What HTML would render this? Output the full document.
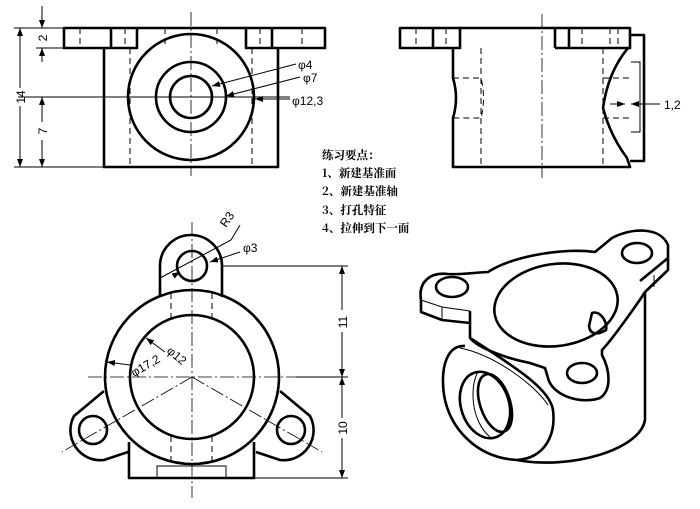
<!DOCTYPE html>
<html><head><meta charset="utf-8"><style>
html,body{margin:0;padding:0;background:#fff;}
svg{display:block;}
text{font-family:"Liberation Sans","Noto Sans CJK SC",sans-serif;fill:#000;}
.t{stroke:#000;stroke-width:2.6;fill:none;stroke-linejoin:round;}
.n{stroke:#000;stroke-width:1;fill:none;}
.d{stroke:#000;stroke-width:1;fill:none;stroke-dasharray:6,4;}
.c{stroke:#000;stroke-width:0.8;fill:none;stroke-dasharray:14,3,2,3;}
</style></head><body>
<svg width="700" height="509" viewBox="0 0 700 509" xmlns="http://www.w3.org/2000/svg">
<defs><marker id="a" markerWidth="8" markerHeight="6" refX="8" refY="3" orient="auto" markerUnits="userSpaceOnUse"><path d="M0,0 L8,3 L0,6z" fill="#000"/></marker></defs>

<!-- TOP LEFT VIEW -->
<rect class="t" x="64" y="28" width="73" height="20"/>
<rect class="t" x="246" y="28" width="79" height="20"/>
<line class="t" x1="137" y1="28" x2="246" y2="28"/>
<line class="t" x1="111" y1="28" x2="111" y2="48"/>
<line class="t" x1="272" y1="28" x2="272" y2="48"/>
<path class="t" d="M104,48 V167 H278 V48"/>
<line class="d" x1="80" y1="28" x2="80" y2="48"/><line class="d" x1="125" y1="28" x2="125" y2="48"/>
<line class="d" x1="260" y1="28" x2="260" y2="48"/><line class="d" x1="302" y1="28" x2="302" y2="48"/>
<line class="d" x1="165" y1="28" x2="165" y2="48"/><line class="d" x1="217" y1="28" x2="217" y2="48"/>
<line class="d" x1="130" y1="48" x2="130" y2="167"/><line class="d" x1="252" y1="48" x2="252" y2="167"/>
<circle class="t" cx="191" cy="97" r="63"/>
<circle class="t" cx="191" cy="97" r="35"/>
<circle class="t" cx="191" cy="97" r="21"/>
<line class="c" x1="191" y1="12" x2="191" y2="176"/>
<line class="n" x1="18" y1="97" x2="290" y2="97"/>
<!-- dims -->
<line class="n" x1="14" y1="28" x2="64" y2="28"/><line class="n" x1="14" y1="167" x2="104" y2="167"/>
<line class="n" x1="36" y1="48" x2="64" y2="48"/>
<line class="n" x1="20" y1="28" x2="20" y2="88"/><line class="n" x1="20" y1="106" x2="20" y2="167"/>
<line class="n" x1="20" y1="40" x2="20" y2="28" marker-end="url(#a)"/><line class="n" x1="20" y1="155" x2="20" y2="167" marker-end="url(#a)"/>
<text x="0" y="0" font-size="12" transform="translate(25,97) rotate(-90)" text-anchor="middle">14</text>
<line class="n" x1="42" y1="6" x2="42" y2="28" marker-end="url(#a)"/>
<line class="n" x1="42" y1="62" x2="42" y2="48" marker-end="url(#a)"/>
<text font-size="12" transform="translate(47,38) rotate(-90)" text-anchor="middle">2</text>
<line class="n" x1="42" y1="97" x2="42" y2="122"/><line class="n" x1="42" y1="140" x2="42" y2="167"/>
<line class="n" x1="42" y1="110" x2="42" y2="97" marker-end="url(#a)"/><line class="n" x1="42" y1="155" x2="42" y2="167" marker-end="url(#a)"/>
<text font-size="12" transform="translate(47,131) rotate(-90)" text-anchor="middle">7</text>
<line class="n" x1="296" y1="64" x2="212" y2="86" marker-end="url(#a)"/>
<line class="n" x1="300" y1="77" x2="226" y2="96" marker-end="url(#a)"/>
<line class="n" x1="290" y1="99" x2="255" y2="99" marker-end="url(#a)"/>
<text x="298" y="69" font-size="12">φ4</text>
<text x="303" y="82" font-size="12">φ7</text>
<text x="292" y="105" font-size="12">φ12,3</text>

<!-- TOP RIGHT VIEW -->
<rect class="t" x="400" y="28" width="60" height="20"/>
<line class="t" x1="433" y1="28" x2="433" y2="48"/>
<path class="t" d="M555,48 V28 H630 V48 H555"/>
<line class="t" x1="569" y1="28" x2="569" y2="48"/>
<line class="t" x1="460" y1="28" x2="555" y2="28"/>
<path class="t" d="M453,48 V78 Q459,98 453,118 V167 H630 L627,158 Q610,135 603,108 Q608,72 628,48"/>
<path class="t" d="M630,35 H644 V161 H630"/>
<path class="n" d="M631,62 H640 V132 H631"/>
<line class="d" x1="416" y1="28" x2="416" y2="48"/><line class="d" x1="446" y1="28" x2="446" y2="48"/>
<line class="d" x1="582" y1="28" x2="582" y2="48"/><line class="d" x1="610" y1="28" x2="610" y2="48"/><line class="d" x1="618" y1="28" x2="618" y2="48"/>
<line class="d" x1="481" y1="48" x2="481" y2="167"/><line class="d" x1="603" y1="48" x2="603" y2="167"/>
<path class="d" d="M453,78 H481 Q486,98 481,118 H453"/>
<line class="d" x1="603" y1="78" x2="630" y2="78"/><line class="d" x1="603" y1="118" x2="630" y2="118"/>
<line class="c" x1="542" y1="14" x2="542" y2="178"/>
<line class="n" x1="610" y1="104" x2="625" y2="104" marker-end="url(#a)"/>
<line class="n" x1="660" y1="104" x2="631" y2="104" marker-end="url(#a)"/>
<text x="664" y="109" font-size="12">1,2</text>

<!-- TEXT -->
<g font-size="11.5" font-weight="bold">
<text x="322" y="159" style="font-family:'Noto Serif CJK SC','Noto Sans CJK SC',serif">练习要点：</text>
<text x="322" y="177" style="font-family:'Noto Serif CJK SC','Noto Sans CJK SC',serif">1、新建基准面</text>
<text x="322" y="195" style="font-family:'Noto Serif CJK SC','Noto Sans CJK SC',serif">2、新建基准轴</text>
<text x="322" y="214" style="font-family:'Noto Serif CJK SC','Noto Sans CJK SC',serif">3、打孔特征</text>
<text x="322" y="232" style="font-family:'Noto Serif CJK SC','Noto Sans CJK SC',serif">4、拉伸到下一面</text>
</g>

<!-- BOTTOM LEFT VIEW -->
<path class="t" d="M160,297 V266 A31,31 0 0 1 222,266 V297"/>
<circle class="t" cx="192" cy="266" r="15"/>
<circle class="t" cx="192" cy="377" r="87"/>
<circle class="t" cx="192" cy="377" r="62"/>
<path class="t" d="M104,391 L74,416 A30,30 0 0 0 104,460 L128,452"/>
<path class="t" d="M280,391 L310,416 A30,30 0 0 1 280,460 L256,452"/>
<circle class="t" cx="93" cy="430" r="14"/>
<circle class="t" cx="291" cy="430" r="14"/>
<path class="t" d="M129,442 V478 H254 V442"/>
<path class="n" d="M157,478 V466 H226 V478"/>
<line class="d" x1="171" y1="293" x2="171" y2="318"/><line class="d" x1="212" y1="293" x2="212" y2="318"/>
<line class="d" x1="171" y1="436" x2="171" y2="466"/><line class="d" x1="212" y1="436" x2="212" y2="466"/>
<line class="c" x1="192" y1="222" x2="192" y2="498"/>
<line class="c" x1="88" y1="377" x2="296" y2="377"/>
<line class="c" x1="192" y1="377" x2="62" y2="452"/>
<line class="c" x1="192" y1="377" x2="322" y2="452"/>
<line class="n" x1="160" y1="278" x2="231" y2="240"/><line class="n" x1="231" y1="240" x2="240" y2="225"/>
<line class="n" x1="175" y1="275" x2="180" y2="272" marker-end="url(#a)"/>
<line class="n" x1="240" y1="252" x2="210" y2="262" marker-end="url(#a)"/>
<text font-size="12" transform="translate(226,228) rotate(-55)">R3</text>
<text x="243" y="252" font-size="12">φ3</text>
<line class="n" x1="165" y1="352" x2="146" y2="338" marker-end="url(#a)"/>
<line class="n" x1="130" y1="365" x2="107" y2="362" marker-end="url(#a)"/>
<text font-size="12" transform="translate(166,352) rotate(40)">φ12</text>
<text font-size="12" transform="translate(134,377) rotate(-30)">φ17,2</text>
<line class="n" x1="222" y1="266" x2="348" y2="266"/><line class="n" x1="296" y1="377" x2="348" y2="377"/>
<line class="n" x1="254" y1="478" x2="348" y2="478"/>
<line class="n" x1="342" y1="266" x2="342" y2="310"/><line class="n" x1="342" y1="332" x2="342" y2="377"/>
<line class="n" x1="342" y1="280" x2="342" y2="266" marker-end="url(#a)"/><line class="n" x1="342" y1="363" x2="342" y2="377" marker-end="url(#a)"/>
<text font-size="12" transform="translate(347,322) rotate(-90)" text-anchor="middle">11</text>
<line class="n" x1="342" y1="377" x2="342" y2="418"/><line class="n" x1="342" y1="438" x2="342" y2="478"/>
<line class="n" x1="342" y1="391" x2="342" y2="377" marker-end="url(#a)"/><line class="n" x1="342" y1="464" x2="342" y2="478" marker-end="url(#a)"/>
<text font-size="12" transform="translate(347,428) rotate(-90)" text-anchor="middle">10</text>

<!-- ISOMETRIC -->
<path class="t" d="M421,300 C418,282 430,272 448,274 C460,275 480,272 488,272 C515,255 565,248 595,252 L612,238 C630,228 660,226 668,245 L668,258 L640,281"/>
<path class="t" d="M421,300 V312 L442,320 L470,323"/>
<path class="n" d="M442,307 V320 M421,300 L442,307 L470,311"/>
<path class="t" d="M668,258 V270 L645,292"/>
<path class="n" d="M654,275 V287"/>
<path class="t" d="M470,311 V338 C478,348 505,358 530,363 L545,368 L548,378 C552,395 580,405 600,398 C612,390 610,370 602,355 L602,350 C612,340 640,300 645,292"/>
<path class="t" d="M645,292 V420 C640,450 570,470 517,460"/>
<ellipse class="t" cx="556" cy="305" rx="62" ry="41" transform="rotate(-8 556 305)"/>
<ellipse class="t" cx="452" cy="287" rx="16" ry="10"/>
<ellipse class="t" cx="637" cy="253" rx="15" ry="10"/>
<ellipse class="t" cx="582" cy="373" rx="15" ry="10"/>
<path class="t" d="M592,313 C600,310 608,322 606,330 C598,335 590,335 589,326 Z"/>
<path class="t" d="M465,346 C448,345 440,365 444,395 C450,430 478,458 517,460 C545,458 556,435 553,410 C550,390 520,370 470,338"/>
<path class="n" d="M460,348 C495,355 535,385 548,405"/>
<ellipse class="t" cx="485" cy="405" rx="24" ry="34" transform="rotate(-18 485 405)"/>
<ellipse class="t" cx="495" cy="403" rx="15" ry="30" transform="rotate(-18 495 403)"/>
<path class="n" d="M478,372 C470,385 470,420 490,437"/>
</svg>
</body></html>
